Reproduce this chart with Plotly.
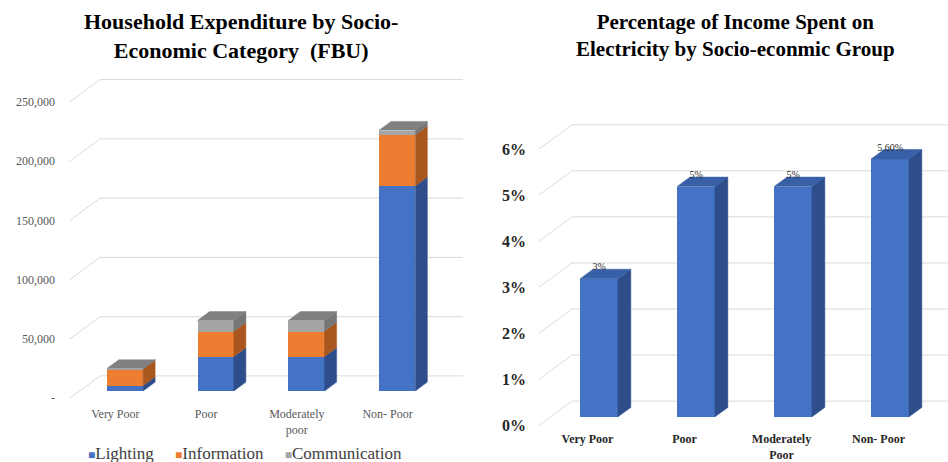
import plotly.graph_objects as go

# ---------------- data ----------------
categories_left = ["Very Poor", "Poor", "Moderately<br>poor", "Non- Poor"]
lighting = [4500, 29000, 29000, 173000]
information = [14000, 21500, 21500, 43000]
communication = [400, 9000, 9000, 4000]
left_tickvals = [0, 50000, 100000, 150000, 200000, 250000]
left_ticktext = ["-", "50,000", "100,000", "150,000", "200,000", "250,000"]

categories_right = ["Very Poor", "Poor", "Moderately<br>Poor", "Non- Poor"]
pct_income = [0.03, 0.05, 0.05, 0.056]
pct_labels = ["3%", "5%", "5%", "5.60%"]
right_tickvals = [0, 0.01, 0.02, 0.03, 0.04, 0.05, 0.06]
right_ticktext = ["0%", "1%", "2%", "3%", "4%", "5%", "6%"]

series_names = ["Lighting", "Information", "Communication"]
front_colors = ["#4472C4", "#ED7D31", "#A5A5A5"]
side_colors = ["#2D4E8A", "#A9561F", "#767676"]
top_colors = ["#3760A6", "#C9692A", "#808080"]

W_PX, H_PX = 948, 462
H_EFF, Y_OFF = 448.5, 0.0   # measured vertical extent / offset of the rendered plot
FONT = "Liberation Serif, Times New Roman, serif"

# ------------- geometry (pixel-based layout) -------------
n = len(categories_left)
L_X0, L_X1 = 70, 463
L_Y0, L_Y1 = 395, 70
L_PXPU_X = 90.74
L_PXPU_Y = 58.8 / 50000
L_DEPTH = (30, 22)

R_X0, R_X1 = 539, 948
R_Y0, R_Y1 = 422, 100
R_PXPU_X = 97.0
R_PXPU_Y = 45.7 / 0.01
R_DEPTH = (33, 24)

L_xrange = [-0.5, -0.5 + (L_X1 - L_X0) / L_PXPU_X]
L_yrange = [0, (L_Y0 - L_Y1) / L_PXPU_Y]
R_xrange = [-0.5, -0.5 + (R_X1 - R_X0) / R_PXPU_X]
R_yrange = [0, (R_Y0 - R_Y1) / R_PXPU_Y]

L_DX, L_DY = L_DEPTH[0] / L_PXPU_X, L_DEPTH[1] / L_PXPU_Y
R_DX, R_DY = R_DEPTH[0] / R_PXPU_X, R_DEPTH[1] / R_PXPU_Y

L_D0, L_D1, L_W = 0.32, 0.72, 0.40
R_D0, R_D1, R_W = 0.35, 0.74, 0.39

fig = go.Figure()
shapes = []


def poly(xs, ys, color, xa, ya):
    return go.Scatter(x=xs + [xs[0]], y=ys + [ys[0]], mode="lines", fill="toself",
                      fillcolor=color, line=dict(width=0.5, color=color),
                      hoverinfo="skip", showlegend=False, xaxis=xa, yaxis=ya)


def grid(tickvals, dx, dy, xref, yref):
    for v in tickvals:
        shapes.append(dict(type="line", xref=xref, yref=yref, layer="below",
                           x0=-0.5, y0=v, x1=-0.5 + dx, y1=v + dy,
                           line=dict(color="#D9D9D9", width=1)))
        shapes.append(dict(type="line", xref=xref, yref=yref, layer="below",
                           x0=-0.5 + dx, y0=v + dy, x1=n + dx + 1, y1=v + dy,
                           line=dict(color="#D9D9D9", width=1)))


grid(left_tickvals, L_DX, L_DY, "x", "y")
grid(right_tickvals, R_DX, R_DY, "x2", "y2")

# ------------- left: stacked 3D bars -------------
stack = [lighting, information, communication]
xs_front = [i + L_D0 * L_DX for i in range(n)]
lift = L_D0 * L_DY
cum = [0] * n
for s, vals in enumerate(stack):
    fig.add_trace(go.Bar(x=xs_front, y=vals, base=[c + lift for c in cum], width=L_W,
                         name=series_names[s], showlegend=False,
                         marker=dict(color=front_colors[s], line=dict(width=0)),
                         xaxis="x", yaxis="y"))
    cum = [c + v for c, v in zip(cum, vals)]

sdx = (L_D1 - L_D0) * L_DX
for i in range(n):
    base = 0
    xc = xs_front[i]
    xl, xr = xc - L_W / 2, xc + L_W / 2
    for s, vals in enumerate(stack):
        top = base + vals[i]
        fig.add_trace(poly([xr, xr, xr + sdx, xr + sdx],
                           [base + L_D0 * L_DY, top + L_D0 * L_DY,
                            top + L_D1 * L_DY, base + L_D1 * L_DY],
                           side_colors[s], "x", "y"))
        base = top
    fig.add_trace(poly([xl, xr, xr + sdx, xl + sdx],
                       [base + L_D0 * L_DY, base + L_D0 * L_DY,
                        base + L_D1 * L_DY, base + L_D1 * L_DY],
                       top_colors[2], "x", "y"))

# ------------- right: 3D bars -------------
rxs = [i + R_D0 * R_DX for i in range(n)]
rlift = R_D0 * R_DY
fig.add_trace(go.Bar(x=rxs, y=pct_income, base=[rlift] * n, width=R_W, showlegend=False,
                     marker=dict(color=front_colors[0], line=dict(width=0)),
                     xaxis="x2", yaxis="y2"))
rsdx = (R_D1 - R_D0) * R_DX
for i in range(n):
    xc = rxs[i]
    xl, xr = xc - R_W / 2, xc + R_W / 2
    v = pct_income[i]
    fig.add_trace(poly([xr, xr, xr + rsdx, xr + rsdx],
                       [R_D0 * R_DY, v + R_D0 * R_DY, v + R_D1 * R_DY, R_D1 * R_DY],
                       side_colors[0], "x2", "y2"))
    fig.add_trace(poly([xl, xr, xr + rsdx, xl + rsdx],
                       [v + R_D0 * R_DY, v + R_D0 * R_DY, v + R_D1 * R_DY, v + R_D1 * R_DY],
                       top_colors[0], "x2", "y2"))

fig.add_trace(go.Scatter(x=rxs, y=[v + 0.8 * R_DY for v in pct_income], mode="text",
                         text=pct_labels, textposition="middle center",
                         textfont=dict(family=FONT, size=10, color="#262626"),
                         hoverinfo="skip", showlegend=False, xaxis="x2", yaxis="y2"))


# ------------- layout -------------
def fx(px):
    return px / W_PX


def fyr(py):
    # vertical pixel positions mapped onto the rendered extent
    return 1 - (py - Y_OFF) / H_EFF


sp = "&nbsp;" * 5
legend_text = sp.join(
    "<span style='color:%s;font-size:12px'>■</span>%s" % (c, nm)
    for c, nm in zip(front_colors, series_names))

fig.update_layout(
    width=W_PX, height=H_PX, autosize=False, margin=dict(l=0, r=0, t=0, b=0),
    paper_bgcolor="white", plot_bgcolor="white",
    barmode="overlay", bargap=0,
    showlegend=False,
    font=dict(family=FONT, color="#595959"),
    xaxis=dict(domain=[fx(L_X0), fx(L_X1)], range=L_xrange, tickvals=list(range(n)),
               ticktext=categories_left, showgrid=False, zeroline=False, showline=False,
               tickfont=dict(family=FONT, size=12, color="#595959"), ticklabelstandoff=7),
    yaxis=dict(domain=[fyr(L_Y0), fyr(L_Y1)], range=L_yrange, tickvals=left_tickvals,
               ticktext=left_ticktext, showgrid=False, zeroline=False, showline=False,
               tickfont=dict(family=FONT, size=12, color="#595959"), ticklabelstandoff=14),
    xaxis2=dict(domain=[fx(R_X0), fx(R_X1)], range=R_xrange, tickvals=list(range(n)),
                ticktext=categories_right, showgrid=False, zeroline=False, showline=False,
                tickfont=dict(family=FONT, size=12, color="#262626", weight="bold"),
                anchor="y2", ticklabelstandoff=5),
    yaxis2=dict(domain=[fyr(R_Y0), fyr(R_Y1)], range=R_yrange, tickvals=right_tickvals,
                ticktext=right_ticktext, showgrid=False, zeroline=False, showline=False,
                tickfont=dict(family=FONT, size=16, color="#262626", weight="bold"),
                anchor="x2", ticklabelstandoff=12),
    shapes=shapes,
    annotations=[
        dict(text="Household Expenditure by Socio-<br>Economic Category  (FBU)",
             x=fx(241), y=fyr(36), xref="paper", yref="paper", showarrow=False,
             xanchor="center", yanchor="middle",
             font=dict(family=FONT, size=22, color="#000000", weight="bold")),
        dict(text="Percentage of Income Spent on<br>Electricity by Socio-econmic Group",
             x=fx(735), y=fyr(35), xref="paper", yref="paper", showarrow=False,
             xanchor="center", yanchor="middle",
             font=dict(family=FONT, size=21, color="#000000", weight="bold")),
        dict(text=legend_text, x=fx(86), y=fyr(450), xref="paper", yref="paper",
             showarrow=False, xanchor="left", yanchor="middle",
             font=dict(family=FONT, size=17, color="#404040")),
    ],
)

fig.write_html("out.html", config={"responsive": False})
